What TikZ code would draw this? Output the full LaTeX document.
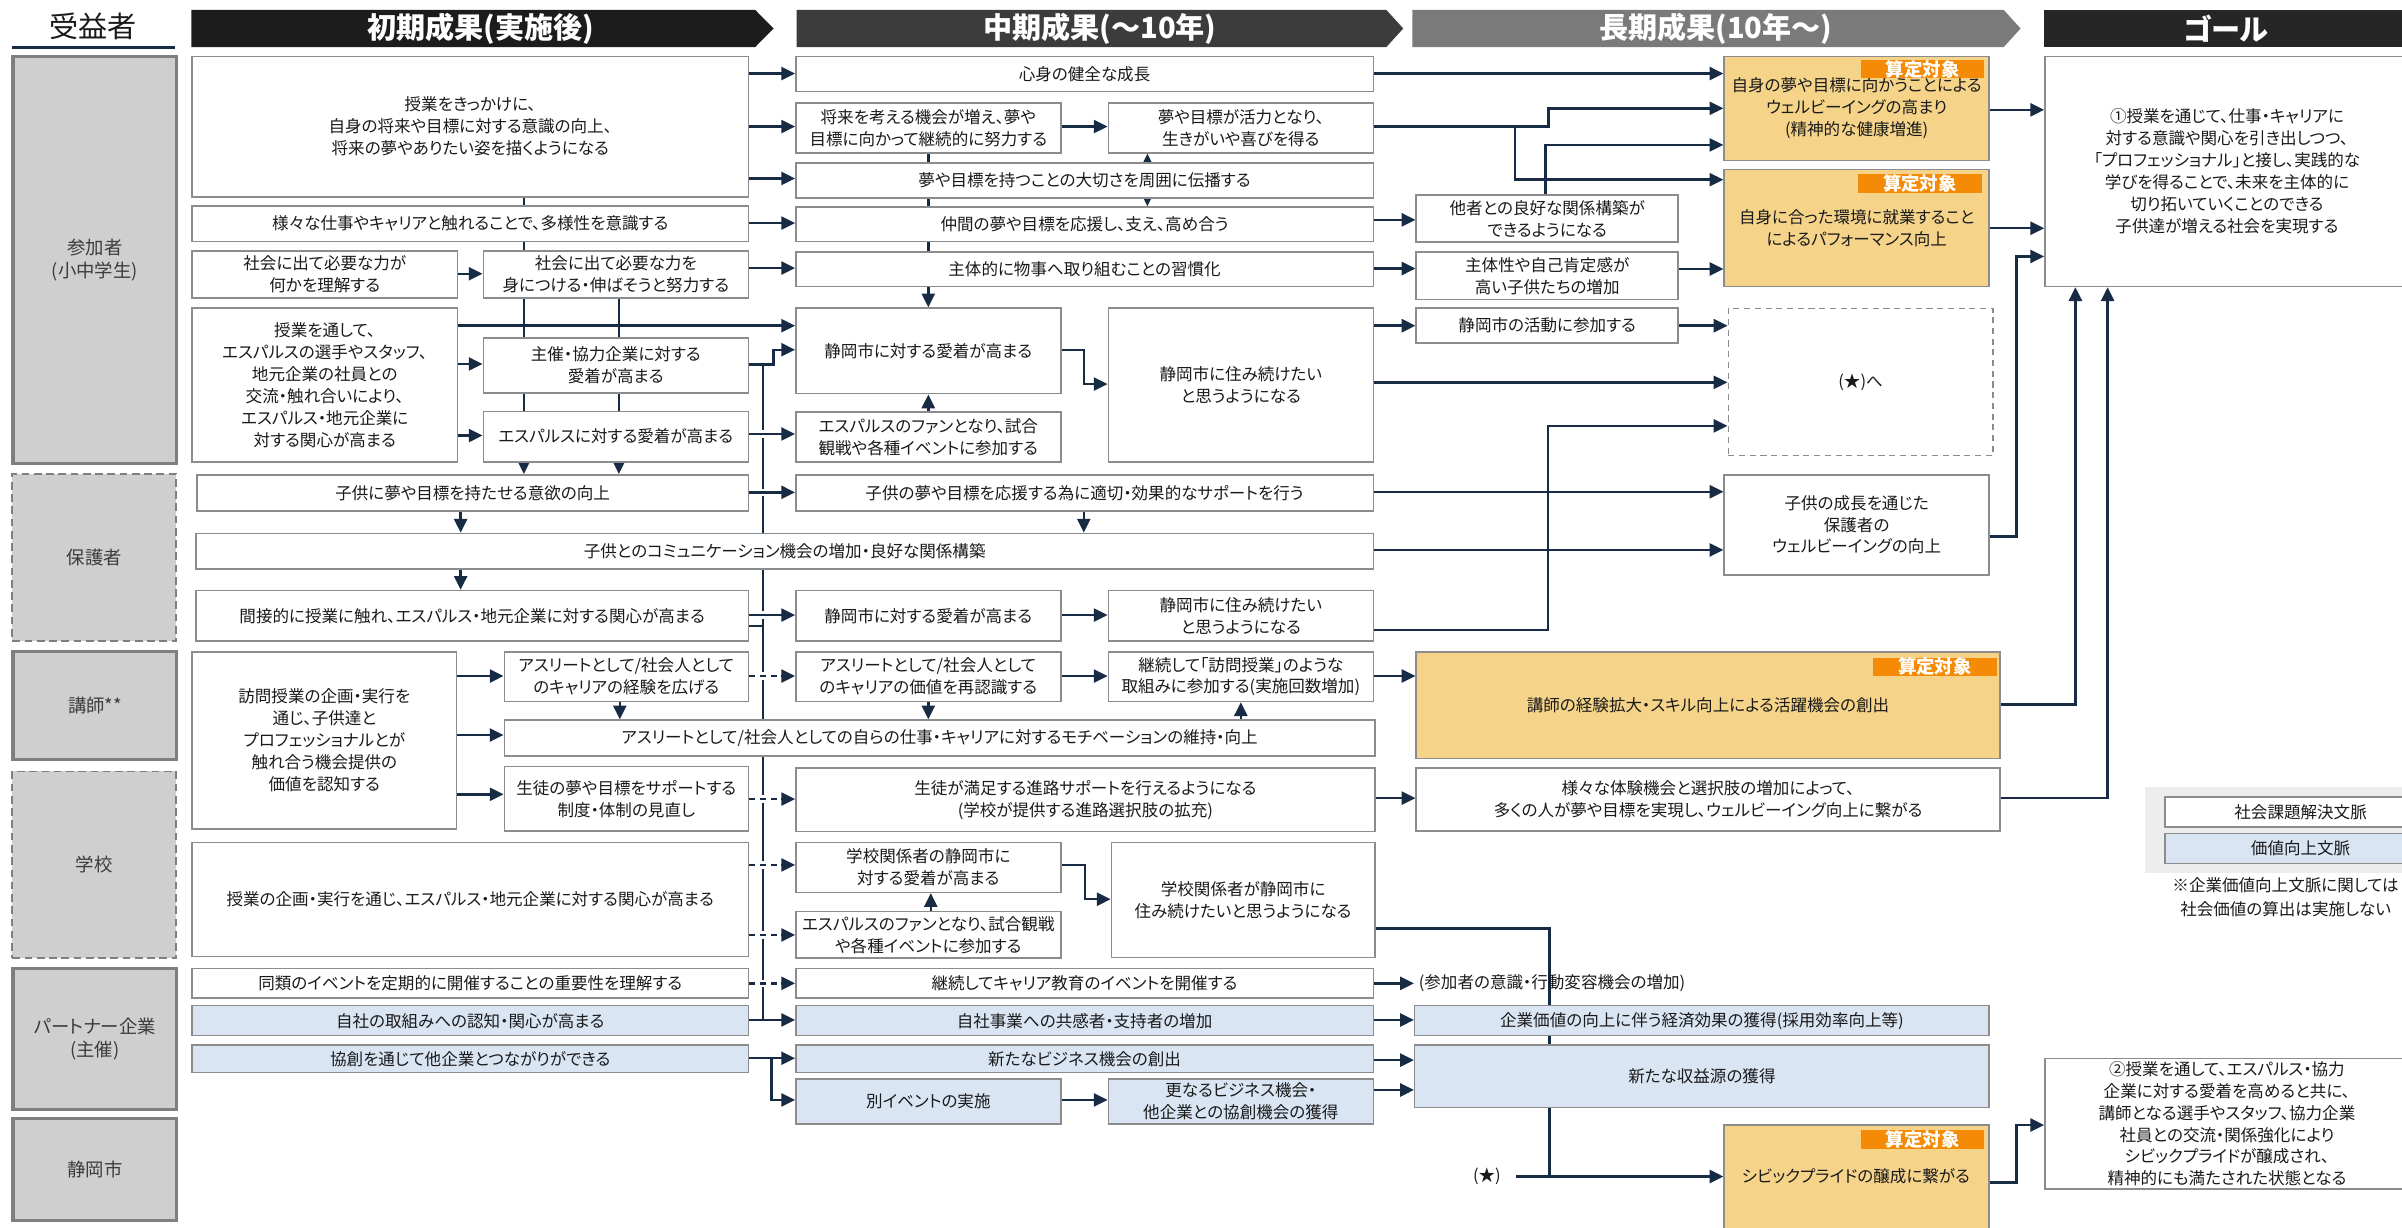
\documentclass[tikz,border=0pt]{standalone}
\usepackage{fontspec}
\setmainfont{Noto Sans CJK JP}[RawFeature={+palt}]
\usetikzlibrary{arrows.meta,backgrounds}
\definecolor{navy}{HTML}{172B45}
\definecolor{bgray}{HTML}{8C8C8C}
\definecolor{lblue}{HTML}{DAE5F4}
\definecolor{lorange}{HTML}{F5D48A}
\definecolor{tagor}{HTML}{F58A07}
\definecolor{lfill}{HTML}{CFCFCF}
\definecolor{lgray}{HTML}{7F7F7F}
\definecolor{txt}{HTML}{1A1A1A}
\definecolor{hone}{HTML}{1C1C1C}
\definecolor{htwo}{HTML}{3C3C3C}
\definecolor{hthree}{HTML}{7A7A7A}
\definecolor{hfour}{HTML}{262626}
\definecolor{panel}{HTML}{EDEDED}
\newcommand{\mkbox}[7][]{\node[bx,#1,anchor=north west,minimum width={(#4-#2)*1pt},minimum height={(#5-#3)*1pt}] (#6) at (#2,#3) {#7};}
\tikzset{
 bx/.style={draw=bgray, line width=1pt, fill=white, align=center, inner sep=1pt, text=txt, font=\fontsize{10.8pt}{14.3pt}\selectfont},
 bxb/.style={fill=lblue},
 bxo/.style={fill=lorange},
 bxd/.style={dash pattern=on 4pt off 3pt},
 lbl/.style={draw=lgray, line width=2pt, fill=lfill, text=txt!85, font=\fontsize{12pt}{15pt}\selectfont},
 lbld/.style={lbl, line width=1.2pt, dash pattern=on 5pt off 3pt},
 tagbox/.style={fill=tagor, text=white, font=\bfseries\fontsize{12pt}{12pt}\selectfont, inner sep=0pt, anchor=north west, minimum width=80.5pt, minimum height=12pt},
 hdr/.style={text=white, font=\bfseries\fontsize{19pt}{19pt}\selectfont, inner sep=0pt},
 ln/.style={draw=navy, line width=1.6pt},
 arr/.style={ln, -{Triangle[length=9pt,width=8.5pt]}},
 darr/.style={arr, dash pattern=on 4pt off 3pt},
 halo/.style={preaction={draw=white, solid, line width=5pt, -, shorten <=4pt, shorten >=11pt}},
 plain/.style={text=txt, font=\fontsize{10.8pt}{15.4pt}\selectfont, inner sep=0pt, align=center},
}
\begin{document}
\begin{tikzpicture}[x=1pt,y=-1pt]
\useasboundingbox (0,0) rectangle (1568,801);
% ---------- headers
\node[text=txt, font=\fontsize{19pt}{19pt}\selectfont, inner sep=0pt] (hben) at (61,17) {受益者};
\draw[navy, line width=2pt] (8,30.7) -- (114,30.7);
\fill[hone] (125,6.5) -- (493,6.5) -- (505,18.6) -- (493,30.7) -- (125,30.7) -- cycle;
\fill[htwo] (520,6.5) -- (905,6.5) -- (916,18.6) -- (905,30.7) -- (520,30.7) -- cycle;
\fill[hthree] (922,6.5) -- (1308,6.5) -- (1319,18.6) -- (1308,30.7) -- (922,30.7) -- cycle;
\fill[hfour] (1334,6.5) rectangle (1580,30.7);
\node[hdr] (h1) at (314,18.6) {初期成果(実施後)};
\node[hdr] (h2) at (718,18.6) {中期成果(～10年)};
\node[hdr] (h3) at (1120,18.6) {長期成果(10年～)};
\node[hdr] (h4) at (1453,18.6) {ゴール};
% ---------- beneficiary labels
\mkbox[lbl]{7.5}{36}{114.5}{301.5}{Lp}{参加者\\(小中学生)}
\mkbox[lbld]{7.5}{309}{114.5}{418}{Lg}{保護者}
\mkbox[lbl]{7.5}{424.5}{114.5}{495}{Lk}{講師**}
\mkbox[lbld]{7.5}{503}{114.5}{625}{Ls}{学校}
\mkbox[lbl]{7.5}{631}{114.5}{723}{Lc}{パートナー企業\\(主催)}
\mkbox[lbl]{7.5}{729}{114.5}{796}{Lz}{静岡市}
% ---------- column A (initial)
\mkbox{125}{36.3}{488}{128}{A1}{授業をきっかけに、\\自身の将来や目標に対する意識の向上、\\将来の夢やありたい姿を描くようになる}
\mkbox{125}{134}{488}{157}{A2}{様々な仕事やキャリアと触れることで、多様性を意識する}
\mkbox{125}{163.5}{298}{194}{A3}{社会に出て必要な力が\\何かを理解する}
\mkbox{315}{163.5}{488}{194}{A4}{社会に出て必要な力を\\身につける・伸ばそうと努力する}
\mkbox{125}{200.6}{298}{301}{A5}{授業を通して、\\エスパルスの選手やスタッフ、\\地元企業の社員との\\交流・触れ合いにより、\\エスパルス・地元企業に\\対する関心が高まる}
\mkbox{315}{220}{488}{256}{A6}{主催・協力企業に対する\\愛着が高まる}
\mkbox{315}{268}{488}{301}{A7}{エスパルスに対する愛着が高まる}
\mkbox{128}{309.4}{488}{333}{P1}{子供に夢や目標を持たせる意欲の向上}
\mkbox{127.5}{347.7}{896}{371}{P2}{子供とのコミュニケーション機会の増加・良好な関係構築}
\mkbox{127.5}{385}{488}{418}{P3}{間接的に授業に触れ、エスパルス・地元企業に対する関心が高まる}
\mkbox{125}{425}{297.4}{540.7}{K1}{訪問授業の企画・実行を\\通じ、子供達と\\プロフェッショナルとが\\触れ合う機会提供の\\価値を認知する}
\mkbox{328.7}{425}{488}{457.4}{K2}{アスリートとして/社会人として\\のキャリアの経験を広げる}
\mkbox{328.7}{469.6}{897}{493}{K3}{アスリートとして/社会人としての自らの仕事・キャリアに対するモチベーションの維持・向上}
\mkbox{328.7}{500}{488}{542}{K4}{生徒の夢や目標をサポートする\\制度・体制の見直し}
\mkbox{125}{549.4}{488}{624}{S1}{授業の企画・実行を通じ、エスパルス・地元企業に対する関心が高まる}
\mkbox{125}{631.7}{488}{651}{E1}{同類のイベントを定期的に開催することの重要性を理解する}
\mkbox[bxb]{125}{656}{488}{675.6}{E2}{自社の取組みへの認知・関心が高まる}
\mkbox[bxb]{125}{681.7}{488}{699.6}{E3}{協創を通じて他企業とつながりができる}
% ---------- column B (mid)
\mkbox{519}{36.3}{896}{59.3}{B1}{心身の健全な成長}
\mkbox{519}{66.7}{692}{99.3}{B2}{将来を考える機会が増え、夢や\\目標に向かって継続的に努力する}
\mkbox{723}{66.7}{896}{99.3}{B3}{夢や目標が活力となり、\\生きがいや喜びを得る}
\mkbox{519}{106}{896}{128.7}{B4}{夢や目標を持つことの大切さを周囲に伝播する}
\mkbox{519}{134.6}{896}{157}{B5}{仲間の夢や目標を応援し、支え、高め合う}
\mkbox{519}{164}{896}{186.5}{B6}{主体的に物事へ取り組むことの習慣化}
\mkbox{519}{200.6}{692}{256.5}{B7}{静岡市に対する愛着が高まる}
\mkbox{723}{200.6}{896}{301}{B8}{静岡市に住み続けたい\\と思うようになる}
\mkbox{519}{268.5}{692}{301}{B9}{エスパルスのファンとなり、試合\\観戦や各種イベントに参加する}
\mkbox{519}{309.4}{896}{333}{B10}{子供の夢や目標を応援する為に適切・効果的なサポートを行う}
\mkbox{519}{385}{692}{418}{B11}{静岡市に対する愛着が高まる}
\mkbox{723}{385}{896}{418}{B12}{静岡市に住み続けたい\\と思うようになる}
\mkbox{519}{425}{692}{457.4}{B13}{アスリートとして/社会人として\\のキャリアの価値を再認識する}
\mkbox{723}{425}{896}{457.4}{B14}{継続して「訪問授業」のような\\取組みに参加する(実施回数増加)}
\mkbox{519}{501}{897}{542.3}{B16}{生徒が満足する進路サポートを行えるようになる\\(学校が提供する進路選択肢の拡充)}
\mkbox{519}{549.4}{692}{582}{B17}{学校関係者の静岡市に\\対する愛着が高まる}
\mkbox{519}{594.5}{692}{625}{B18}{エスパルスのファンとなり、試合観戦\\や各種イベントに参加する}
\mkbox{725}{549.4}{897}{624.5}{B19}{学校関係者が静岡市に\\住み続けたいと思うようになる}
\mkbox{519}{631.7}{896}{651}{B20}{継続してキャリア教育のイベントを開催する}
\mkbox[bxb]{519}{656}{896}{675.6}{B21}{自社事業への共感者・支持者の増加}
\mkbox[bxb]{519}{681.7}{896}{699.6}{B22}{新たなビジネス機会の創出}
\mkbox[bxb]{519}{704}{692}{733.3}{B23}{別イベントの実施}
\mkbox[bxb]{723}{704}{896}{733.3}{B24}{更なるビジネス機会・\\他企業との協創機会の獲得}
% ---------- column C (long)
\mkbox[bxo]{1125}{36.3}{1298}{104.3}{C1}{自身の夢や目標に向かうことによる\\ウェルビーイングの高まり\\(精神的な健康増進)}
\node[tagbox] (t1) at (1214.6,39) {算定対象};
\mkbox[bxo]{1125}{110}{1298}{186.5}{C2}{自身に合った環境に就業すること\\によるパフォーマンス向上}
\node[tagbox] (t2) at (1212.8,113.5) {算定対象};
\mkbox{924}{126.7}{1095}{157.6}{Cs1}{他者との良好な関係構築が\\できるようになる}
\mkbox{924}{164}{1095}{195}{Cs2}{主体性や自己肯定感が\\高い子供たちの増加}
\mkbox{924}{200.6}{1095}{223.5}{Cs3}{静岡市の活動に参加する}
\mkbox[bxd]{1127.7}{201}{1300.5}{296.7}{Cd}{(★)へ}
\mkbox{1125}{309.4}{1298}{374.7}{Cg}{子供の成長を通じた\\保護者の\\ウェルビーイングの向上}
\mkbox[bxo]{924}{425}{1305}{494.6}{Ck}{講師の経験拡大・スキル向上による活躍機会の創出}
\node[tagbox] (t3) at (1222.6,429) {算定対象};
\mkbox{924}{501}{1305}{542}{Ct}{様々な体験機会と選択肢の増加によって、\\多くの人が夢や目標を実現し、ウェルビーイング向上に繋がる}
\node[plain, anchor=west] (Cp) at (926,641.9) {(参加者の意識・行動変容機会の増加)};
\mkbox[bxb]{923}{656}{1298}{675.6}{Cv}{企業価値の向上に伴う経済効果の獲得(採用効率向上等)}
\mkbox[bxb]{923}{681.7}{1298}{722.4}{Cr}{新たな収益源の獲得}
\mkbox[bxo]{1125}{734}{1298}{812}{Cc}{}
\node[plain] (Cctext) at (1211.5,768) {シビックプライドの醸成に繋がる};
\node[tagbox] (t4) at (1214.6,737.6) {算定対象};
\node[plain] (star) at (970.6,768) {(★)};
% ---------- goals
\mkbox{1334.4}{36.3}{1572}{186.5}{G1}{①授業を通じて、仕事・キャリアに\\対する意識や関心を引き出しつつ、\\「プロフェッショナル」と接し、実践的な\\学びを得ることで、未来を主体的に\\切り拓いていくことのできる\\子供達が増える社会を実現する}
\mkbox{1334.4}{690.4}{1572}{775.7}{G2}{②授業を通して、エスパルス・協力\\企業に対する愛着を高めると共に、\\講師となる選手やスタッフ、協力企業\\社員との交流・関係強化により\\シビックプライドが醸成され、\\精神的にも満たされた状態となる}
% ---------- legend
\fill[panel] (1400.3,514) rectangle (1600,569.7);
\mkbox{1412.6}{519.6}{1590}{539.2}{Lg1}{社会課題解決文脈}
\mkbox[bxb]{1412.6}{543.6}{1590}{563.1}{Lg2}{価値向上文脈}
\node[plain] (note) at (1492,585.5) {※企業価値向上文脈に関しては\\社会価値の算出は実施しない};
% ---------- connectors
\begin{scope}[on background layer]
\fill[white] (0,0) rectangle (1568,801);
% lines running behind boxes
\draw[arr] (A1.south -| 342,0) -- (P1.north -| 342,0);
\draw[arr] (A4.south -| 404,0) -- (P1.north -| 404,0);
\draw[ln] (498,238) -- (498,665.8);
\draw[ln] (P3.east |- 0,408.5) -- (498,408.5);
\draw[arr] (B2.south -| 606,0) -- (B7.north -| 606,0);
\draw[arr] (B4.north -| 749,0) -- (B3.south -| 749,0);
\draw[arr] (B4.south -| 749,0) -- (B5.north -| 749,0);
\draw[ln] (B19.east |- 0,606) -- (1011.6,606) -- (1011.6,768);
% A -> B
\draw[arr] (A1.east |- 0,48) -- (B1.west |- 0,48);
\draw[arr] (A1.east |- 0,82.6) -- (B2.west |- 0,82.6);
\draw[arr] (A1.east |- 0,116.5) -- (B4.west |- 0,116.5);
\draw[arr] (A2.east |- 0,145.6) -- (B5.west |- 0,145.6);
\draw[arr] (A3.east |- 0,178.7) -- (A4.west |- 0,178.7);
\draw[arr] (A4.east |- 0,175) -- (B6.west |- 0,175);
\draw[arr] (A5.east |- 0,212.6) -- (B7.west |- 0,212.6);
\draw[arr] (A5.east |- 0,237.6) -- (A6.west |- 0,237.6);
\draw[arr] (A5.east |- 0,284.3) -- (A7.west |- 0,284.3);
\draw[arr] (A6.east |- 0,238) -- (505,238) -- (505,228.3) -- (B7.west |- 0,228.3);
\draw[arr, halo] (A7.east |- 0,283.3) -- (B9.west |- 0,283.3);
\draw[arr, halo] (P1.east |- 0,321.4) -- (B10.west |- 0,321.4);
\draw[arr] (P1.south -| 300.7,0) -- (P2.north -| 300.7,0);
\draw[arr] (P2.south -| 300.7,0) -- (P3.north -| 300.7,0);
\draw[arr, halo] (P3.east |- 0,401.5) -- (B11.west |- 0,401.5);
\draw[arr] (K1.east |- 0,441.3) -- (K2.west |- 0,441.3);
\draw[arr] (K1.east |- 0,479.8) -- (K3.west |- 0,479.8);
\draw[arr] (K1.east |- 0,518.5) -- (K4.west |- 0,518.5);
\draw[arr] (K2.south -| 404.6,0) -- (K3.north -| 404.6,0);
\draw[darr, halo] (K2.east |- 0,441.3) -- (B13.west |- 0,441.3);
\draw[darr, halo] (K4.east |- 0,521.6) -- (B16.west |- 0,521.6);
\draw[darr, halo] (S1.east |- 0,564.6) -- (B17.west |- 0,564.6);
\draw[darr, halo] (S1.east |- 0,610.3) -- (B18.west |- 0,610.3);
\draw[darr, halo] (E1.east |- 0,641.9) -- (B20.west |- 0,641.9);
\draw[arr] (E2.east |- 0,665.8) -- (B21.west |- 0,665.8);
\draw[arr] (E3.east |- 0,690.8) -- (B22.west |- 0,690.8);
\draw[arr] (503.7,690.8) -- (503.7,718) -- (B23.west |- 0,718);
% B internal
\draw[arr] (B2.east |- 0,82.6) -- (B3.west |- 0,82.6);
\draw[arr] (B7.east |- 0,228.3) -- (707.6,228.3) -- (707.6,250.7) -- (B8.west |- 0,250.7);
\draw[arr] (B9.north -| 606,0) -- (B7.south -| 606,0);
\draw[arr] (B10.south -| 707.5,0) -- (P2.north -| 707.5,0);
\draw[arr] (B11.east |- 0,401.5) -- (B12.west |- 0,401.5);
\draw[arr] (B13.east |- 0,441.3) -- (B14.west |- 0,441.3);
\draw[arr] (B13.south -| 606,0) -- (K3.north -| 606,0);
\draw[arr] (K3.north -| 810,0) -- (B14.south -| 810,0);
\draw[arr] (B18.north -| 607.6,0) -- (B17.south -| 607.6,0);
\draw[arr] (B17.east |- 0,564.7) -- (708.2,564.7) -- (708.2,587) -- (B19.west |- 0,587);
\draw[arr] (B23.east |- 0,718) -- (B24.west |- 0,718);
% B -> C
\draw[arr] (B1.east |- 0,48) -- (C1.west |- 0,48);
\draw[arr] (B3.east |- 0,82.6) -- (1010.7,82.6) -- (1010.7,70.7) -- (C1.west |- 0,70.7);
\draw[arr] (989,82.6) -- (989,117.3) -- (C2.west |- 0,117.3);
\draw[arr] (Cs1.north -| 1009,0) -- (1009,94.6) -- (C1.west |- 0,94.6);
\draw[arr] (B5.east |- 0,143.5) -- (Cs1.west |- 0,143.5);
\draw[arr] (B6.east |- 0,175.3) -- (Cs2.west |- 0,175.3);
\draw[arr] (Cs2.east |- 0,175.6) -- (C2.west |- 0,175.6);
\draw[arr] (B8.east |- 0,212.6) -- (Cs3.west |- 0,212.6);
\draw[arr] (Cs3.east |- 0,212.6) -- (Cd.west |- 0,212.6);
\draw[arr] (B8.east |- 0,249.6) -- (Cd.west |- 0,249.6);
\draw[arr] (B12.east |- 0,411.3) -- (1010.6,411.3) -- (1010.6,278) -- (Cd.west |- 0,278);
\draw[arr] (B10.east |- 0,321) -- (Cg.west |- 0,321);
\draw[arr] (P2.east |- 0,359) -- (Cg.west |- 0,359);
\draw[arr] (B14.east |- 0,441.3) -- (Ck.west |- 0,441.3);
\draw[arr] (B16.east |- 0,521) -- (Ct.west |- 0,521);
\draw[arr, shorten >=3pt] (B20.east |- 0,641.9) -- (Cp.west);
\draw[arr] (B21.east |- 0,665.8) -- (Cv.west |- 0,665.8);
\draw[arr] (B22.east |- 0,692) -- (Cr.west |- 0,692);
\draw[arr] (B24.east |- 0,711.5) -- (Cr.west |- 0,711.5);
\draw[ln] ([xshift=10pt]star.east) -- (1011.6,768);
\draw[arr] (1011.6,768) -- (Cc.west |- 0,768);
% C -> goals
\draw[arr] (C1.east |- 0,71.7) -- (G1.west |- 0,71.7);
\draw[arr] (C2.east |- 0,149) -- (G1.west |- 0,149);
\draw[arr] (Cg.east |- 0,350.3) -- (1316.2,350.3) -- (1316.2,167.4) -- (G1.west |- 0,167.4);
\draw[arr] (Ck.east |- 0,459.8) -- (1354.8,459.8) -- (G1.south -| 1354.8,0);
\draw[arr] (Ct.east |- 0,521) -- (1375.8,521) -- (G1.south -| 1375.8,0);
\draw[arr] (Cc.east |- 0,772) -- (1316.2,772) -- (1316.2,734.4) -- (G2.west |- 0,734.4);
\end{scope}
\end{tikzpicture}
\end{document}
